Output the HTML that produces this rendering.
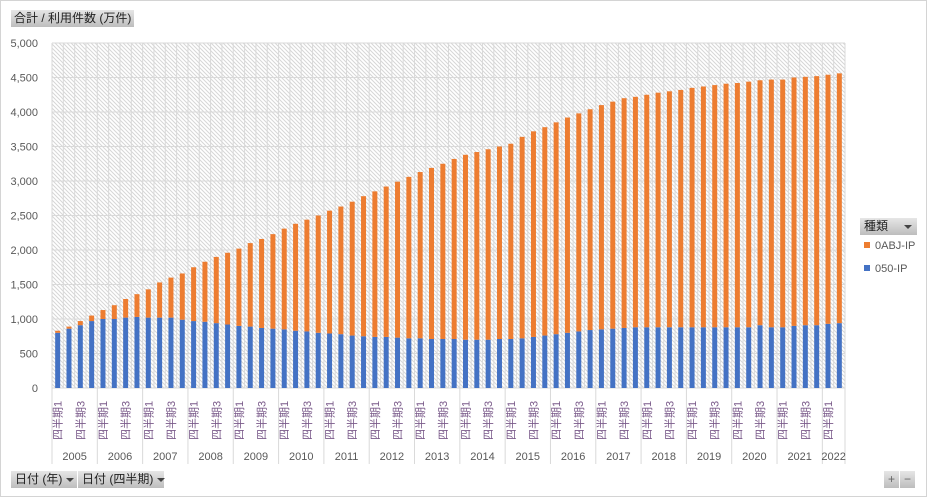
<!DOCTYPE html>
<html><head><meta charset="utf-8"><style>
body{margin:0;background:#fff;font-family:"Liberation Sans","Noto Sans CJK JP",sans-serif;}
#wrap{position:relative;width:925px;height:495px;border:1px solid #d4d4d4;overflow:hidden}
.btn{position:absolute;height:17px;background:linear-gradient(#e6e6e6,#bdbdbd);font-size:12px;color:#222;line-height:17px;padding:0 4px;box-sizing:border-box;white-space:nowrap}
.arr{display:inline-block;width:0;height:0;border-left:4px solid transparent;border-right:4px solid transparent;border-top:4px solid #444;vertical-align:middle;margin-left:4px}
</style></head><body>
<div id="wrap">
<div class="btn" style="left:10px;top:9px;padding:0 3px">合計 / 利用件数 (万件)</div>
<div class="btn" style="left:10px;top:470px;width:66px">日付 (年)<span class="arr"></span></div>
<div class="btn" style="left:77px;top:470px;width:86px">日付 (四半期)<span class="arr"></span></div>
<div class="btn" style="left:859px;top:217px;width:57px">種類<span class="arr" style="margin-left:16px"></span></div>
<div class="btn" style="left:883px;top:470px;width:15px;padding:0;text-align:center;color:#666">+</div>
<div class="btn" style="left:899px;top:470px;width:15px;padding:0;text-align:center;color:#666">−</div>
<svg id="chart" width="925" height="495" style="position:absolute;left:0;top:0">
<defs><pattern id="hatch" width="4" height="4" patternUnits="userSpaceOnUse"><rect width="4" height="4" fill="#fff"/><path d="M-1,-1 L5,5 M-1,3 L1,5 M3,-1 L5,1" stroke="#d6d6d6" stroke-width="1"/></pattern></defs>
</svg>
</div>
<script>
const years=["2005","2006","2007","2008","2009","2010","2011","2012","2013","2014","2015","2016","2017","2018","2019","2020","2021","2022"];
const quarterLabels=["四半期1","四半期2","四半期3","四半期4"];
const ipBlue=[800,860,910,970,1000,1000,1020,1030,1020,1020,1020,990,970,960,940,920,900,890,870,860,850,830,820,800,790,780,760,750,740,740,730,720,720,710,710,710,700,700,700,710,710,720,740,760,780,800,820,840,850,860,870,880,880,880,880,880,880,880,880,880,880,880,910,880,880,900,910,910,930,940];
const oabjOrange=[30,30,60,80,130,200,270,330,410,510,580,670,780,870,960,1040,1120,1210,1290,1370,1460,1550,1620,1700,1780,1850,1940,2030,2110,2180,2260,2340,2410,2480,2540,2610,2680,2720,2760,2790,2830,2920,2980,3020,3070,3120,3160,3200,3250,3290,3330,3340,3370,3400,3420,3440,3470,3490,3510,3530,3540,3560,3550,3590,3590,3600,3600,3610,3610,3620];
const yTicks=[0,500,1000,1500,2000,2500,3000,3500,4000,4500,5000];
const legendNames=["0ABJ-IP","050-IP"];
const NS="http://www.w3.org/2000/svg",svg=document.getElementById('chart');
const X0=51,X1=844,Y0=387,Y1=42,YMAX=5000,N=ipBlue.length,step=(X1-X0)/N,bw=5;
const ys=v=>Y0-(v/YMAX)*(Y0-Y1);
const xs=i=>X0+step*i;
function mk(t,a,p){const e=document.createElementNS(NS,t);for(const k in a)e.setAttribute(k,a[k]);(p||svg).appendChild(e);return e;}
const bg=mk('rect',{x:X0,y:Y1,width:X1-X0,height:Y0-Y1,fill:'url(#hatch)'});


yTicks.forEach(v=>{const l=mk('line',{x1:X0,x2:X1,y1:ys(v),y2:ys(v),stroke:'#d9d9d9'});


const t=mk('text',{x:37,y:ys(v)+4,'text-anchor':'end','font-size':11,fill:'#595959'});t.textContent=v.toLocaleString('en-US');

});
for(let i=0;i<=N;i++){const l=mk('line',{x1:xs(i),x2:xs(i),y1:Y1,y2:Y0,stroke:'#d9d9d9'});

}
for(let i=0;i<N;i++){const cx=xs(i)+step/2;
const b=mk('rect',{x:cx-bw/2,y:ys(ipBlue[i]),width:bw,height:Y0-ys(ipBlue[i]),fill:'#4472c4'});


const o=mk('rect',{x:cx-bw/2,y:ys(ipBlue[i]+oabjOrange[i]),width:bw,height:ys(ipBlue[i])-ys(ipBlue[i]+oabjOrange[i]),fill:'#ed7d31'});


const q=i%4;if(q===0||q===2){const t=mk('text',{transform:`translate(${cx+4},439) rotate(-90)`,'font-size':11,fill:'#7a5a8a'});t.textContent=quarterLabels[q];

}}
mk('line',{x1:X0,x2:X0,y1:Y0,y2:463,stroke:'#d9d9d9'});
years.forEach((y,k)=>{const s=k*4,e=Math.min(N,s+4);
const l=mk('line',{x1:xs(e),x2:xs(e),y1:Y0,y2:463,stroke:'#d9d9d9'});


const t=mk('text',{x:(xs(s)+xs(e))/2,y:459,'text-anchor':'middle','font-size':11,fill:'#595959'});t.textContent=y;

});
const cols=['#ed7d31','#4472c4'];
legendNames.forEach((n,k)=>{const yy=245+k*23;
const r=mk('rect',{x:863,y:yy-4,width:6,height:6,fill:cols[k]});


const t=mk('text',{x:874,y:yy+3,'font-size':11,fill:'#595959'});t.textContent=n;

});
</script>
</body></html>
